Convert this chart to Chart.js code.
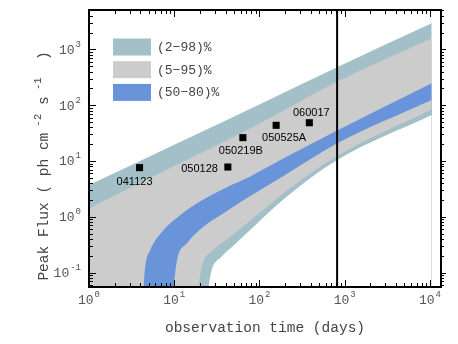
<!DOCTYPE html>
<html>
<head>
<meta charset="utf-8">
<script src="https://cdn.jsdelivr.net/npm/chart.js@4/dist/chart.umd.min.js"></script>
<style>
  html, body { margin: 0; padding: 0; background: #fff; }
  canvas { display: block; }
</style>
</head>
<body>
<canvas id="chart" width="458" height="344"></canvas>
<script>
'use strict';

// ── Data ──────────────────────────────────────────────────────────────────────

const grbNames = ['041123', '050128', '050219B', '050525A', '060017'];
const grbDays  = [3.92, 42.6, 63.9, 157, 385];
const grbFlux  = [7.6, 7.8, 26.2, 43.6, 48.5];

// band edges (percentiles)
const p98Days = [1, 10, 100, 815, 10500];
const p98Flux = [3.7, 19.5, 103, 480, 2940];

const p95Days = [1, 10, 100, 815, 10500];
const p95Flux = [1.42, 8.1, 46.6, 263, 1580];

const p80Days = [4.37, 4.57, 5.24, 7.5, 11.8, 18.5, 42.7, 77.8, 200, 815, 10500];
const p80Flux = [0.055, 0.128, 0.254, 0.58, 1.08, 1.75, 3.47, 5.3, 11.5, 35.1, 247];

const p50Days = [9.8, 10.8, 14.1, 22.0, 37.8, 77.8, 200, 815, 10500];
const p50Flux = [0.055, 0.168, 0.335, 0.665, 1.16, 2.36, 5.6, 20.7, 124];

const p5Days = [19.3, 21.1, 28.9, 45.4, 77.8, 200, 815, 10500];
const p5Flux = [0.055, 0.128, 0.254, 0.44, 0.85, 2.78, 12.3, 84.5];

const p2Days = [25.2, 27.5, 35.5, 50.1, 77.8, 200, 815, 10500];
const p2Flux = [0.055, 0.111, 0.19, 0.31, 0.58, 2.17, 10.4, 66.7];

const cutoffDays = 815;

const xRange = [1, 13500];
const yRange = [0.0552, 5080];
const xTickPowers = [0, 1, 2, 3, 4];
const yTickPowers = [-1, 0, 1, 2, 3];

const legendLabels = ['(2\u221298)%', '(5\u221295)%', '(50\u221280)%'];

// ── Styles ────────────────────────────────────────────────────────────────────

const BLUEGRAY = '#a3bfc7';
const GRAY     = '#cccccc';
const BLUE     = '#6a94d9';
const MONO     = "'Liberation Mono', 'DejaVu Sans Mono', monospace";
const SANS     = "'Liberation Sans', Arial, sans-serif";

function pts(xs, ys) {
  return xs.map((x, i) => ({ x, y: ys[i] }));
}

function band(days, flux, color, order) {
  return {
    type: 'line',
    data: pts(days, flux),
    backgroundColor: color,
    borderColor: 'transparent',
    borderWidth: 0,
    pointRadius: 0,
    fill: 'start',
    cubicInterpolationMode: 'monotone',
    order,
  };
}

function logSteps(min, max) {
  const out = [];
  const lo = Math.floor(Math.log10(min));
  const hi = Math.ceil(Math.log10(max));
  for (let p = lo; p <= hi; p++) {
    for (let m = 1; m <= 9; m++) {
      const v = m * Math.pow(10, p);
      if (v >= min * 0.999 && v <= max * 1.001) out.push({ v, major: m === 1 });
    }
  }
  return out;
}

// "10" with a raised exponent, anchored at (x, y)
function drawPow(ctx, exp, x, y, align) {
  ctx.font = `13px ${MONO}`;
  const wBase = ctx.measureText('10').width;
  ctx.font = `9px ${MONO}`;
  const wExp = ctx.measureText(String(exp)).width;
  const total = wBase + 1 + wExp;
  const x0 = align === 'center' ? x - total / 2 : x - total;
  ctx.textAlign = 'left';
  ctx.textBaseline = 'middle';
  ctx.font = `13px ${MONO}`;
  ctx.fillText('10', x0, y);
  ctx.font = `9px ${MONO}`;
  ctx.fillText(String(exp), x0 + wBase + 1, y - 6);
}

// ── Frame, ticks, labels, legend ──────────────────────────────────────────────

const decorPlugin = {
  id: 'decor',
  afterDatasetsDraw(chart) {
    const { ctx, chartArea: a, scales: { x, y } } = chart;
    ctx.save();

    // ticks
    ctx.strokeStyle = '#000';
    ctx.lineWidth = 1;
    ctx.beginPath();
    for (const t of logSteps(x.min, x.max)) {
      const px = Math.round(x.getPixelForValue(t.v)) + 0.5;
      const len = t.major ? 7 : 4;
      ctx.moveTo(px, a.bottom); ctx.lineTo(px, a.bottom - len);
      ctx.moveTo(px, a.top);    ctx.lineTo(px, a.top + len);
    }
    for (const t of logSteps(y.min, y.max)) {
      const py = Math.round(y.getPixelForValue(t.v)) + 0.5;
      ctx.moveTo(a.left, py);  ctx.lineTo(a.left + (t.major ? 7 : 4), py);
      ctx.moveTo(a.right, py); ctx.lineTo(a.right + (t.major ? 5 : 3), py);
    }
    ctx.stroke();

    // frame
    ctx.lineWidth = 2;
    ctx.strokeRect(a.left, a.top, a.right - a.left, a.bottom - a.top);

    // tick labels
    ctx.fillStyle = '#555';
    for (const p of xTickPowers) {
      drawPow(ctx, p, x.getPixelForValue(Math.pow(10, p)), 301, 'center');
    }
    for (const p of yTickPowers) {
      drawPow(ctx, p, a.left - 8, y.getPixelForValue(Math.pow(10, p)) + 1, 'right');
    }

    // axis titles
    ctx.fillStyle = '#444';
    ctx.font = `14.5px ${MONO}`;
    ctx.textAlign = 'center';
    ctx.textBaseline = 'middle';
    ctx.fillText('observation time (days)', (a.left + a.right) / 2, 328);

    const parts = [
      ['Peak Flux ( ph cm', 0], [' -2', 1], [' s', 0], [' -1', 1], ['  )', 0],
    ];
    const fontFor = sup => sup ? `10.5px ${MONO}` : `14.5px ${MONO}`;
    let total = 0;
    for (const [s, sup] of parts) { ctx.font = fontFor(sup); total += ctx.measureText(s).width; }
    ctx.translate(44, 166);
    ctx.rotate(-Math.PI / 2);
    ctx.textAlign = 'left';
    let cx = -total / 2;
    for (const [s, sup] of parts) {
      ctx.font = fontFor(sup);
      ctx.fillText(s, cx, sup ? -6 : 0);
      cx += ctx.measureText(s).width;
    }
    ctx.setTransform(1, 0, 0, 1, 0, 0);

    // legend
    const colors = [BLUEGRAY, GRAY, BLUE];
    ctx.font = `13px ${MONO}`;
    ctx.textAlign = 'left';
    legendLabels.forEach((label, i) => {
      const top = 38.5 + i * 22.7;
      ctx.fillStyle = colors[i];
      ctx.fillRect(113, top, 38, 17);
      ctx.fillStyle = '#444';
      ctx.fillText(label, 157, top + 9);
    });

    // GRB labels
    const offsets = [[-5, 14, 'center'], [-10, 2, 'right'], [-2, 13, 'center'], [8, 13, 'center'], [2, -10, 'center']];
    const meta = chart.getDatasetMeta(chart.data.datasets.length - 1);
    ctx.font = `11px ${SANS}`;
    ctx.fillStyle = '#000';
    meta.data.forEach((pt, i) => {
      const [dx, dy, align] = offsets[i];
      ctx.textAlign = align;
      ctx.fillText(grbNames[i], pt.x + dx, pt.y + dy);
    });

    ctx.restore();
  },
};

// ── Chart ─────────────────────────────────────────────────────────────────────

new Chart(document.getElementById('chart'), {
  type: 'line',
  data: {
    datasets: [
      band(p98Days, p98Flux, BLUEGRAY, 7),
      band(p95Days, p95Flux, GRAY, 6),
      band(p80Days, p80Flux, BLUE, 5),
      band(p50Days, p50Flux, GRAY, 4),
      band(p5Days, p5Flux, BLUEGRAY, 3),
      band(p2Days, p2Flux, '#ffffff', 2),
      {
        type: 'line',
        data: pts([cutoffDays, cutoffDays], yRange),
        borderColor: '#000',
        borderWidth: 2,
        pointRadius: 0,
        fill: false,
        order: 1,
      },
      {
        type: 'scatter',
        data: pts(grbDays, grbFlux),
        pointStyle: 'rect',
        pointRadius: 5,
        backgroundColor: '#000',
        borderWidth: 0,
        order: 0,
      },
    ],
  },
  options: {
    responsive: false,
    devicePixelRatio: 1,
    animation: false,
    events: [],
    layout: { padding: { left: 89, right: 17, top: 10, bottom: 57 } },
    plugins: { legend: { display: false }, tooltip: { enabled: false } },
    scales: {
      x: { type: 'logarithmic', min: xRange[0], max: xRange[1], display: false },
      y: { type: 'logarithmic', min: yRange[0], max: yRange[1], display: false },
    },
  },
  plugins: [decorPlugin],
});
</script>
</body>
</html>
